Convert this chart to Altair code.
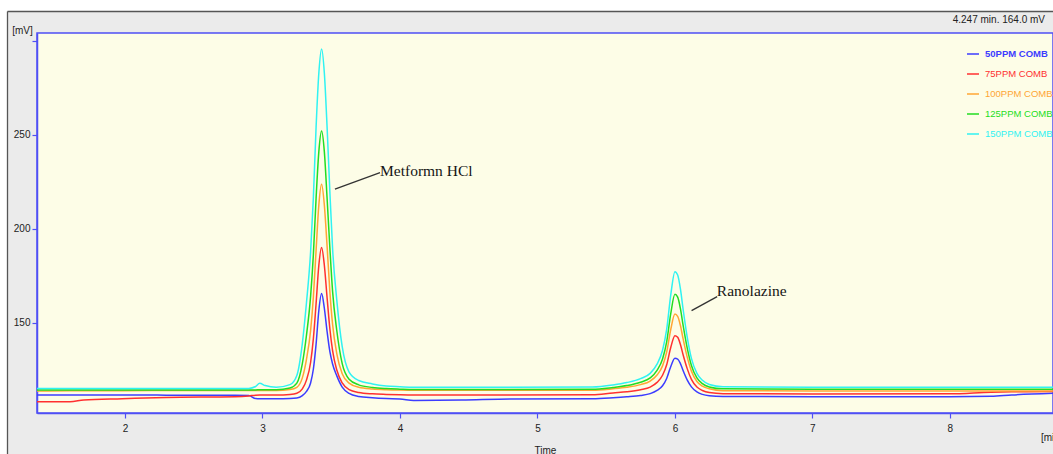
import altair as alt
import pandas as pd

# ---------------- data ----------------
time_min = [1.36, 1.6, 1.7, 1.98, 2.3, 2.8, 2.9, 2.95, 2.98, 3.02, 3.1, 3.2,
            3.25, 3.29, 3.32, 3.35, 3.37, 3.39, 3.41, 3.43, 3.45, 3.47, 3.49, 3.51, 3.54, 3.58, 3.63, 3.7, 3.8, 3.9, 4.0,
            4.1, 4.45, 4.8, 5.4,
            5.55, 5.65, 5.75, 5.82, 5.87, 5.91, 5.94, 5.97, 6.0, 6.02, 6.04, 6.06, 6.09, 6.12, 6.16, 6.2, 6.25, 6.35,
            7.0, 8.0, 8.3, 8.45, 8.75]

mv_50 = [111.5, 111.5, 111.5, 111.5, 111.4, 111.3, 111.2, 109.6, 109.5, 109.5, 109.5, 109.6,
         109.9, 111.2, 113.4, 117.9, 125.2, 138.6, 156.5, 165.5, 157.7, 145.3, 134.7, 128.0, 121.8, 115.7, 112.3, 110.7, 110.0, 109.6, 109.4,
         108.6, 108.8, 109.4, 109.5,
         110.0, 110.5, 111.2, 112.2, 113.9, 116.4, 120.3, 126.7, 131.0, 130.6, 128.2, 124.4, 119.4, 115.8, 113.1, 111.8, 111.1, 110.7,
         110.6, 110.6, 110.8, 111.5, 112.4]

mv_75 = [107.9, 107.9, 108.8, 109.5, 110.2, 110.6, 111.0, 111.4, 111.5, 111.5, 111.5, 111.8,
         112.4, 114.7, 119.4, 128.8, 141.4, 160.2, 180.6, 190.0, 180.6, 163.3, 146.9, 135.1, 124.9, 117.9, 114.3, 112.8, 112.1, 111.8, 111.6,
         111.5, 111.5, 111.5, 111.6,
         112.6, 113.2, 114.3, 115.7, 118.2, 122.0, 127.6, 136.9, 143.1, 142.2, 138.4, 132.8, 125.4, 119.8, 115.7, 113.9, 112.8, 112.2,
         112.0, 112.1, 113.0, 113.2, 113.3]

mv_100 = [113.6, 113.8, 113.8, 113.8, 113.9, 113.9, 113.9, 113.9, 113.9, 113.9, 113.9, 114.4,
          115.6, 120.6, 130.5, 145.8, 163.4, 188.6, 212.7, 223.7, 212.7, 190.8, 166.7, 149.1, 133.7, 122.8, 117.8, 115.6, 114.7, 114.3, 114.1,
          114.0, 114.0, 114.0, 114.0,
          114.8, 115.6, 117.0, 118.9, 122.1, 127.0, 134.3, 146.5, 154.6, 153.4, 148.5, 141.2, 131.5, 124.2, 118.7, 116.2, 114.8, 113.8,
          113.6, 113.6, 113.6, 113.6, 113.6]

mv_125 = [114.2, 114.2, 114.2, 114.2, 114.2, 114.2, 114.2, 114.2, 114.3, 114.3, 114.3, 115.2,
          117.8, 128.2, 143.3, 164.0, 186.0, 216.3, 241.1, 252.1, 241.1, 216.3, 190.1, 166.7, 146.1, 128.2, 119.9, 116.9, 115.5, 114.9, 114.6,
          114.4, 114.4, 114.4, 114.5,
          115.5, 116.5, 118.3, 120.6, 124.6, 130.7, 139.8, 155.0, 165.1, 163.6, 157.5, 148.4, 136.3, 127.2, 120.6, 117.5, 115.8, 114.8,
          114.5, 114.5, 114.5, 114.5, 114.5]

mv_150 = [115.0, 115.0, 115.0, 115.0, 115.0, 115.0, 115.0, 116.0, 117.7, 116.5, 115.6, 117.0,
          121.9, 139.0, 160.6, 187.6, 216.4, 254.2, 283.0, 295.8, 283.0, 254.2, 220.0, 189.4, 162.4, 137.2, 123.7, 119.2, 117.4, 116.3, 115.9,
          115.6, 115.6, 115.6, 115.7,
          116.8, 118.1, 120.2, 123.0, 127.9, 135.3, 146.4, 164.9, 177.2, 175.4, 168.0, 156.9, 142.1, 131.0, 123.0, 119.3, 117.1, 115.9,
          115.6, 115.6, 115.6, 115.6, 115.6]

series_names = ["50PPM COMB", "75PPM COMB", "100PPM COMB", "125PPM COMB", "150PPM COMB"]
series_colors = ["#3c3cff", "#ff3030", "#ffa634", "#22dd22", "#30f2f2"]
series_values = [mv_50, mv_75, mv_100, mv_125, mv_150]

x_ticks = [2, 3, 4, 5, 6, 7, 8]
y_ticks = [150, 200, 250, 300]

ann_text = ["Metformn HCl", "Ranolazine"]
ann_t = [3.855, 6.305]
ann_mv = [231.0, 166.9]
lead_t1 = [3.527, 6.121]
lead_mv1 = [221.1, 156.4]
lead_t2 = [3.855, 6.307]
lead_mv2 = [229.9, 163.9]

readout = "4.247 min.  164.0 mV"

# ---------------- build tables ----------------
rows = []
for name, vals in zip(series_names, series_values):
    for t, v in zip(time_min, vals):
        rows.append({"time": t, "mv": v, "series": name})
df = pd.DataFrame(rows)
ann_df = pd.DataFrame({"label": ann_text, "t": ann_t, "mv": ann_mv,
                       "t1": lead_t1, "v1": lead_mv1, "t2": lead_t2, "v2": lead_mv2})
one = pd.DataFrame({"txt": [readout]})

W, H = 1016, 380
AX = "#4f4ff5"
FONT = "Liberation Sans"

xs = alt.Scale(domain=[1.36, 8.75], nice=False, zero=False)
ys = alt.Scale(domain=[101.9, 304.3], nice=False, zero=False)

x_axis = alt.Axis(values=x_ticks, format="d", tickSize=5, tickColor=AX, domainColor=AX,
                  domainWidth=1.5, tickWidth=1.2, grid=False,
                  labelColor="#222", labelFont=FONT, labelFontSize=10, labelPadding=5,
                  title="Time", titleFont=FONT, titleFontSize=10, titleFontWeight="normal",
                  titleColor="#222", titleX=508, titleY=37, titleAlign="center",
                  titleBaseline="middle")
y_axis = alt.Axis(values=y_ticks, tickSize=5, tickColor=AX, domainColor=AX,
                  domainWidth=1.5, tickWidth=1.2, grid=False,
                  labelExpr="datum.value == 300 ? '' : datum.label",
                  labelColor="#222", labelFont=FONT, labelFontSize=10, labelPadding=2,
                  title="[mV]", titleAngle=0, titleFont=FONT, titleFontSize=10,
                  titleFontWeight="normal", titleColor="#222", titleX=-15, titleY=-3,
                  titleAlign="center", titleBaseline="middle")

legend = alt.Legend(orient="none", legendX=929, legendY=14, title=None,
                    symbolType="stroke", symbolSize=144, symbolStrokeWidth=1.5,
                    labelFont=FONT, labelFontSize=9.5, labelOffset=5,
                    rowPadding=8, padding=0,
                    labelColor=alt.ExprRef("scale('color', datum.value)"),
                    labelFontWeight=alt.ExprRef("datum.value === '50PPM COMB' ? 'bold' : 'normal'"))

color = alt.Color("series:N", scale=alt.Scale(domain=series_names, range=series_colors),
                  legend=legend)

base = alt.Chart(df)
line_layers = []
for name in series_names:
    line_layers.append(
        base.transform_filter(alt.datum.series == name)
        .mark_line(interpolate="monotone", strokeWidth=1.5)
        .encode(x=alt.X("time:Q", scale=xs, axis=x_axis),
                y=alt.Y("mv:Q", scale=ys, axis=y_axis),
                color=color)
    )

ann_base = alt.Chart(ann_df)
ann_text_layer = ann_base.mark_text(align="left", baseline="middle", font="Liberation Serif",
                                    fontSize=15.5, color="#151515").encode(
    x=alt.X("t:Q", scale=xs, axis=x_axis), y=alt.Y("mv:Q", scale=ys, axis=y_axis),
    text="label:N")
ann_lead_layer = ann_base.mark_rule(color="#333333", strokeWidth=1.3).encode(
    x=alt.X("t1:Q", scale=xs, axis=x_axis), y=alt.Y("v1:Q", scale=ys, axis=y_axis),
    x2="t2:Q", y2="v2:Q")

frame = alt.Chart(one)
white_top = frame.mark_rect(color="#ffffff").encode(
    x=alt.value(-37), x2=alt.value(W + 20), y=alt.value(-33), y2=alt.value(-22))
white_left = frame.mark_rect(color="#ffffff").encode(
    x=alt.value(-37), x2=alt.value(-30), y=alt.value(-33), y2=alt.value(H + 50))
dark_top = frame.mark_rule(color="#555555", strokeWidth=1.3).encode(
    x=alt.value(-29.5), x2=alt.value(W + 20), y=alt.value(-21.5))
dark_left = frame.mark_rule(color="#555555", strokeWidth=1.3).encode(
    x=alt.value(-29.5), y=alt.value(-21.5), y2=alt.value(H + 50))
readout_layer = frame.mark_text(align="right", baseline="middle", font=FONT, fontSize=10,
                                color="#222").encode(
    x=alt.value(1008), y=alt.value(-13), text="txt:N")
min_layer = frame.mark_text(align="left", baseline="middle", font=FONT, fontSize=10,
                            color="#222", text="[min]").encode(
    x=alt.value(1004), y=alt.value(405))

chart = alt.layer(
    *line_layers, ann_lead_layer, ann_text_layer,
    white_top, white_left, dark_top, dark_left, readout_layer, min_layer
).properties(
    width=W, height=H,
    padding={"left": 37, "top": 33, "right": 0, "bottom": 41},
    autosize=alt.AutoSizeParams(type="none"),
    background="#ebebeb",
).configure_view(
    stroke=AX, strokeWidth=1.5, fill="#fdfde7"
)

chart.save("out.html", embed_options={"renderer": "svg", "actions": False})
